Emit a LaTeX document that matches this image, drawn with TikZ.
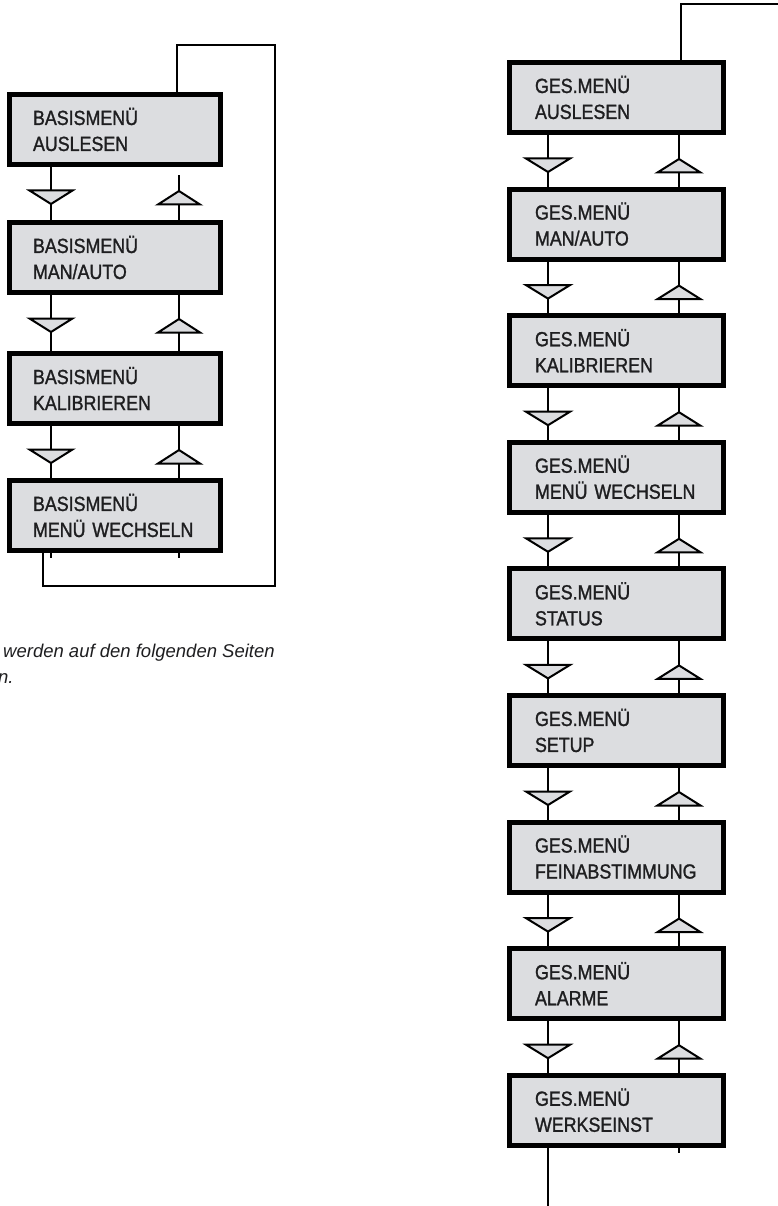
\documentclass[tikz,border=0pt]{standalone}
\usepackage{fontspec}
\setmainfont{Liberation Sans}
\newfontfamily\boxfont[FakeStretch=0.87,FakeBold=1.3]{Liberation Sans}
\usetikzlibrary{calc}
\definecolor{boxgray}{RGB}{220,221,224}
\definecolor{inkgray}{RGB}{30,30,32}
\tikzset{
  menubox/.style={draw=black, line width=5pt, fill=boxgray, rectangle,
    minimum height=70pt, inner ysep=0pt, align=left, text=inkgray,
    font=\boxfont\fontsize{20.5}{26}\selectfont},
  leftbox/.style={menubox, minimum width=211pt, text width=164pt, inner xsep=23.5pt},
  rightbox/.style={menubox, minimum width=214pt, text width=163pt, inner xsep=25.5pt},
  link/.style={line width=2.6pt, line join=miter},
  tri/.style={draw=black, line width=2pt, fill=boxgray, line join=miter},
  caption/.style={inner sep=0pt, text=inkgray, font=\itshape\fontsize{18.5}{22}\selectfont},
}
\begin{document}
\begin{tikzpicture}[x=1pt,y=-1pt]
\useasboundingbox (0,0) rectangle (778,1206);

% column positions
\coordinate (xLd) at (51,0);
\coordinate (xLu) at (179,0);
\coordinate (xLt) at (177,0);
\coordinate (xRd) at (548,0);
\coordinate (xRu) at (679,0);
\coordinate (xRt) at (681,0);

% ---------- left diagram ----------
\node[leftbox] (L1) at (115,129.5) {BASISMENÜ\\AUSLESEN};
\node[leftbox] (L2) at (115,257.5) {BASISMENÜ\\MAN/AUTO};
\node[leftbox] (L3) at (115,388.5) {BASISMENÜ\\KALIBRIEREN};
\node[leftbox] (L4) at (115,515.5) {BASISMENÜ\\MENÜ WECHSELN};

\draw[link] (L1.south -| xLd) -- (L2.north -| xLd);
\draw[link] ($(L1.south -| xLu)+(0,8.5)$) -- (L2.north -| xLu);
\foreach \a/\b in {L2/L3,L3/L4}{
  \draw[link] (\a.south -| xLd) -- (\b.north -| xLd);
  \draw[link] (\a.south -| xLu) -- (\b.north -| xLu);
}
\foreach \a in {L1,L2,L3}{
  \draw[tri] ($(\a.south -| xLd)+(-21.5,23.5)$) -- ++(43,0) -- ++(-21.5,13.5) -- cycle;
  \draw[tri] ($(\a.south -| xLu)+(-21,37.5)$) -- ++(42,0) -- ++(-21,-13.5) -- cycle;
}
\draw[link] (L4.south -| xLd) -- ++(0,5);
\draw[link] (L4.south -| xLu) -- ++(0,5);

\coordinate (LloopTR) at (275,45);
\coordinate (LloopBL) at (43,586);
\draw[link] (L1.north -| xLt) |- (LloopTR) |- (LloopBL) -- (L4.south -| LloopBL);

\node[caption, anchor=base west] (c1) at (3,657) {werden auf den folgenden Seiten};
\node[caption, anchor=base west] (c2) at (-2,683) {n.};

% ---------- right diagram ----------
\node[rightbox] (R1) at (616.5,97.5)  {GES.MENÜ\\AUSLESEN};
\node[rightbox] (R2) at (616.5,224.1) {GES.MENÜ\\MAN/AUTO};
\node[rightbox] (R3) at (616.5,350.7) {GES.MENÜ\\KALIBRIEREN};
\node[rightbox] (R4) at (616.5,477.3) {GES.MENÜ\\MENÜ WECHSELN};
\node[rightbox] (R5) at (616.5,603.9) {GES.MENÜ\\STATUS};
\node[rightbox] (R6) at (616.5,730.5) {GES.MENÜ\\SETUP};
\node[rightbox] (R7) at (616.5,857.1) {GES.MENÜ\\FEINABSTIMMUNG};
\node[rightbox] (R8) at (616.5,983.7) {GES.MENÜ\\ALARME};
\node[rightbox] (R9) at (616.5,1110.3) {GES.MENÜ\\WERKSEINST};

\foreach \a/\b in {R1/R2,R2/R3,R3/R4,R4/R5,R5/R6,R6/R7,R7/R8,R8/R9}{
  \draw[link] (\a.south -| xRd) -- (\b.north -| xRd);
  \draw[link] (\a.south -| xRu) -- (\b.north -| xRu);
  \draw[tri] ($(\a.south -| xRd)+(-22,23.5)$) -- ++(44,0) -- ++(-22,13.5) -- cycle;
  \draw[tri] ($(\a.south -| xRu)+(-21.5,37.5)$) -- ++(43,0) -- ++(-21.5,-13.5) -- cycle;
}

\coordinate (RtopEnd) at (780,4);
\draw[link] (R1.north -| xRt) |- (RtopEnd);
\coordinate (RbotEnd) at (548,1208);
\draw[link] (R9.south -| xRd) -- (RbotEnd);
\draw[link] (R9.south -| xRu) -- ++(0,5.5);
\end{tikzpicture}
\end{document}
